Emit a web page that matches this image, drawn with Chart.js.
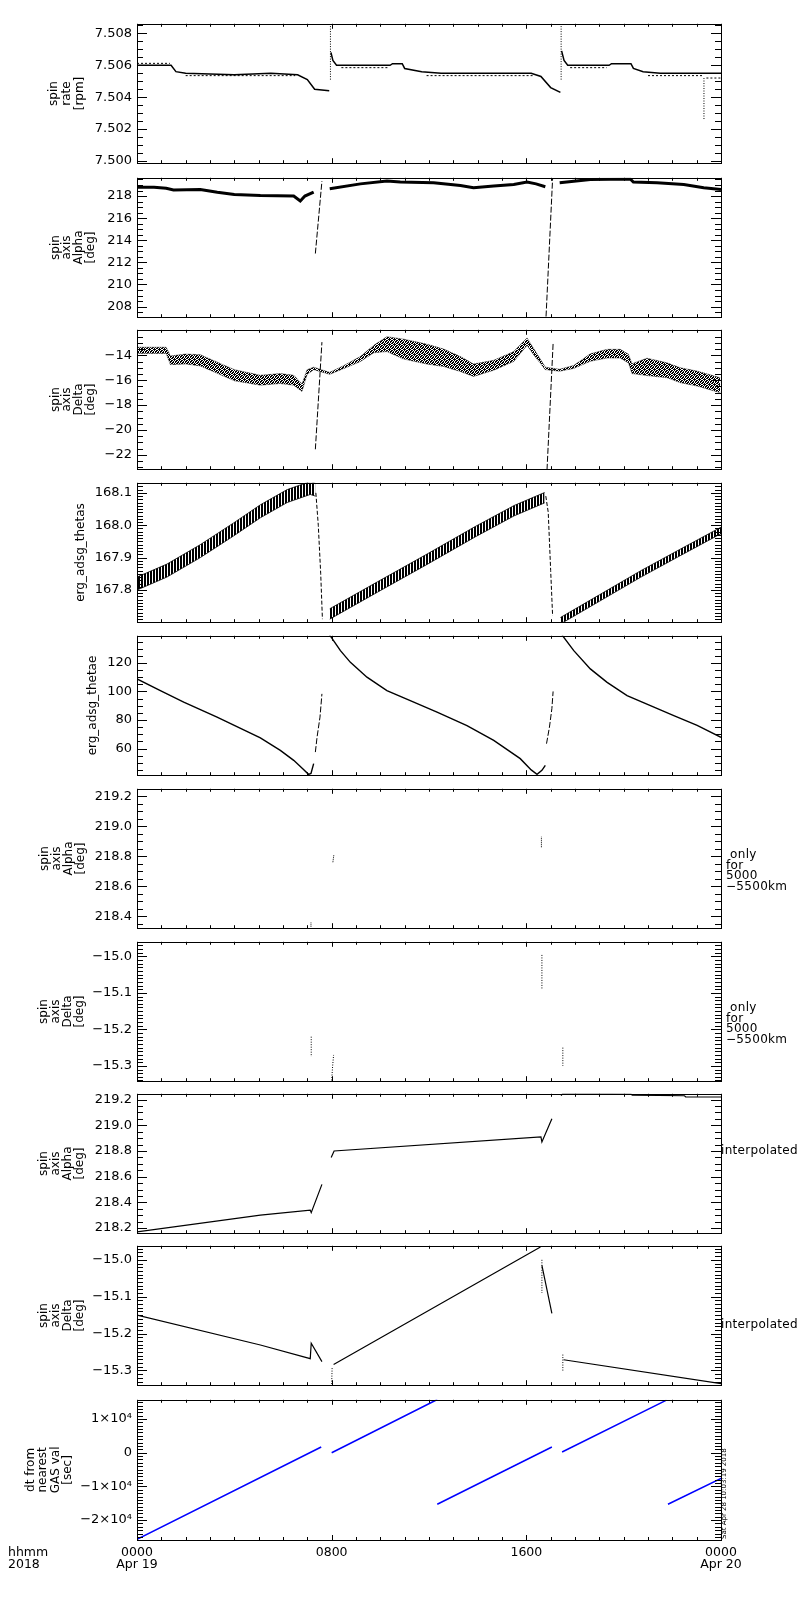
<!DOCTYPE html>
<html>
<head>
<meta charset="utf-8">
<script src="https://cdn.jsdelivr.net/npm/chart.js@4.4.1/dist/chart.umd.min.js"></script>
<style>
  body { margin: 0; background: #fff; width: 800px; height: 1600px; position: relative;
         font-family: "DejaVu Sans", sans-serif; color: #000; }
  canvas { position: absolute; left: 0; z-index: 1; }
  .note { position: absolute; z-index: 2; font-size: 12px; line-height: 10.6px; letter-spacing: 0.3px; white-space: nowrap; }
  .stamp { position: absolute; z-index: 2; font-size: 7px; line-height: 8px; white-space: nowrap;
           transform: rotate(-90deg); transform-origin: left top; }
</style>
</head>
<body>

<div class="note" style="left:8px;top:1546px;font-size:12.5px;line-height:11.7px;letter-spacing:0">hhmm<br>2018</div>
<div class="note" style="left:726px;top:849px">&nbsp;only<br>for<br>5000<br>−5500km</div>
<div class="note" style="left:726px;top:1002px">&nbsp;only<br>for<br>5000<br>−5500km</div>
<div class="note" style="left:721px;top:1145px">interpolated</div>
<div class="note" style="left:721px;top:1319px">interpolated</div>
<div class="stamp" style="left:720px;top:1539px">Sat Apr 28 10:03:19 2018</div>

<script>
// ===== DATA (hours since 0000 Apr 19; null = gap) =====
const timeTickHours = [0, 8, 16, 24];
const timeTickLabels = [["0000", "Apr 19"], "0800", "1600", ["0000", "Apr 20"]];

// spin rate [rpm]
const rateHours = [0, 1.4, 1.6, 2.0, 4.0, 5.5, 6.6, 7.0, 7.3, 7.9, 7.93, 7.97, 8.05, 8.2, 10.4, 10.5, 10.9, 11.0, 11.7, 12.5,
                   16.2, 16.6, 17.0, 17.4, 17.42, 17.45, 17.55, 17.7, 19.4, 19.5, 20.3, 20.4, 20.8, 21.5, 24.0];
const rateRpm = [7.5060, 7.5060, 7.5056, 7.5055, 7.5054, 7.5055, 7.5054, 7.5051, 7.5045, 7.5044, null, 7.5068, 7.5063, 7.5060,
                 7.5060, 7.5061, 7.5061, 7.5058, 7.5056, 7.5055, 7.5055, 7.5053, 7.5046, 7.5043, null, 7.5069, 7.5063, 7.5060,
                 7.5060, 7.5061, 7.5061, 7.5058, 7.5056, 7.5055, 7.5055];
const rateAltHours = [0, 1.35, 1.5, 2.0, 6.5, 7.0, 8.4, 10.3, 11.0, 11.9, 16.3, 17.0, 17.8, 19.3, 20.0, 21.0, 23.25, 23.3, 23.4, 24.0];
const rateAltRpm = [7.50612, 7.50612, null, 7.50535, 7.50535, null, 7.50585, 7.50585, null, 7.50535, 7.50535, null,
                    7.50585, 7.50585, null, 7.50535, 7.50535, null, 7.50520, 7.50520];
const rateSpikeHours = [7.95, 7.95, 8.0, 17.43, 17.43, 18.0, 23.3, 23.3];
const rateSpikeRpm = [7.5051, 7.5085, null, 7.5051, 7.5085, null, 7.5052, 7.5026];
const rateTicks = [7.500, 7.502, 7.504, 7.506, 7.508];
const rateLabels = ["7.500", "7.502", "7.504", "7.506", "7.508"];

// spin axis Alpha [deg]
const alphaHours = [0, 0.7, 1.2, 1.5, 2.6, 3.3, 4.0, 5.07, 6.44, 6.71, 6.9, 7.26, 7.5, 7.92, 9.18, 10.27, 10.82, 12.19, 13.29,
                    13.83, 14.66, 15.48, 16.03, 16.4, 16.78, 17.0, 17.37, 18.63, 20.27, 20.4, 21.37, 22.47, 23.29, 24.0];
const alphaDeg = [218.8, 218.8, 218.7, 218.55, 218.6, 218.35, 218.15, 218.05, 218.0, 217.55, 218.0, 218.36, null, 218.66,
                  219.1, 219.35, 219.26, 219.2, 218.96, 218.75, 218.9, 219.05, 219.26, 219.1, 218.84, null, 219.2, 219.5,
                  219.55, 219.26, 219.2, 219.05, 218.75, 218.6];
const alphaSteepHours = [7.33, 7.6, 8.0, 16.81, 17.08];
const alphaSteepDeg = [212.8, 219.35, null, 207.1, 219.6];
const alphaTicks = [208, 210, 212, 214, 216, 218];
const alphaLabels = ["208", "210", "212", "214", "216", "218"];

// spin axis Delta [deg] (scatter cloud, upper / lower edge)
const deltaHours = [0, 1.2, 1.37, 2.0, 2.6, 3.3, 4.0, 5.07, 5.89, 6.44, 6.78, 6.99, 7.26,
                    7.92, 8.49, 9.18, 9.73, 10.27, 10.96, 11.9, 12.6, 13.29, 13.83, 14.66, 15.48, 16.03, 16.3, 16.78,
                    17.37, 17.95, 18.63, 19.32, 19.86, 20.2, 20.34, 20.96, 21.78, 22.33, 23.02, 23.97];
const deltaUpper = [-13.35, -13.35, -14.05, -13.9, -13.95, -14.55, -15.15, -15.6, -15.47, -15.6, -16.3, -15.15, -14.95,
                    -15.37, -14.83, -14.1, -13.2, -12.5, -12.7, -13.1, -13.5, -14.1, -14.7, -14.4, -13.7, -12.6, -13.45, -14.95,
                    -15.12, -14.81, -13.88, -13.52, -13.52, -13.92, -14.67, -14.23, -14.6, -15.0, -15.27, -15.8];
const deltaLower = [-13.85, -13.85, -14.75, -14.7, -14.85, -15.45, -16.05, -16.4, -16.27, -16.4, -16.9, -15.55, -15.15,
                    -15.53, -15.07, -14.5, -13.8, -13.7, -14.3, -14.7, -14.9, -15.3, -15.7, -15.2, -14.5, -13.2, -13.95, -15.15,
                    -15.28, -15.05, -14.48, -14.22, -14.22, -14.62, -15.47, -15.63, -15.8, -16.2, -16.47, -17.0];
const deltaSteepHours = [7.33, 7.6, 8.0, 16.85, 17.1];
const deltaSteepDeg = [-21.55, -12.94, null, -23.2, -13.07];
const deltaTicks = [-22, -20, -18, -16, -14];
const deltaLabels = ["−22", "−20", "−18", "−16", "−14"];

// erg_adsg_thetas (spin-modulated band, upper / lower edge)
const thetasHours = [0, 1.23, 2.6, 3.97, 5.07, 6.17, 7.12, 7.33, 7.6, 7.92, 9.9, 11.92, 13.9, 15.5, 16.75,
                     17.2, 17.4, 19.0, 20.69, 22.3, 24.0];
const thetasUpper = [167.84, 167.88, 167.94, 168.007, 168.063, 168.11, 168.135, 168.13, null, 167.742, 167.826, 167.911,
                     167.996, 168.061, 168.101, null, 167.715, 167.785, 167.859, 167.925, 167.994];
const thetasLower = [167.80, 167.84, 167.90, 167.967, 168.023, 168.07, 168.095, 168.09, null, 167.71, 167.794, 167.879,
                     167.964, 168.029, 168.069, null, 167.695, 167.765, 167.839, 167.905, 167.974];
const thetasSteepHours = [7.35, 7.45, 7.55, 7.62, 8.0, 16.8, 16.9, 17.0, 17.08];
const thetasSteepVal = [168.10, 168.0, 167.85, 167.71, null, 168.09, 168.04, 167.86, 167.72];
const thetasTicks = [167.8, 167.9, 168.0, 168.1];
const thetasLabels = ["167.8", "167.9", "168.0", "168.1"];

// erg_adsg_thetae
const thetaeHours = [0, 0.96, 1.92, 3.29, 5.07, 5.89, 6.44, 6.8, 7.05, 7.15, 7.26, 7.5, 7.9, 8.0, 8.36, 8.77, 9.45, 10.27,
                     11.23, 12.33, 13.56, 14.66, 15.75, 16.2, 16.44, 16.64, 16.78, 17.2, 17.47, 17.95, 18.63, 19.32,
                     20.14, 21.1, 22.06, 23.02, 24.0];
const thetaeVal = [108.8, 100.6, 92.5, 82.0, 67.5, 58.7, 51.7, 46.0, 41.9, 42.5, 49.4, null, 140.0, 137.5, 128.6, 120.4,
                   110.0, 100.6, 93.6, 85.5, 76.1, 65.7, 52.9, 45.0, 41.9, 44.7, 48.2, null, 139.5, 128.6, 115.8, 106.4,
                   97.1, 90.1, 83.1, 76.2, 67.8];
const thetaeSteepHours = [7.33, 7.4, 7.52, 7.6, 8.0, 16.83, 16.95, 17.05, 17.1];
const thetaeSteepVal = [57.5, 68.0, 82.0, 98.3, null, 63.4, 75.0, 88.0, 100.0];
const thetaeTicks = [60, 80, 100, 120];
const thetaeLabels = ["60", "80", "100", "120"];

// spin axis Alpha, only for 5000-5500km
const alphaOnlyHours = [7.15, 7.15, 7.6, 8.05, 8.09, 9.0, 16.62, 16.62];
const alphaOnlyDeg = [218.33, 218.36, null, 218.76, 218.81, null, 218.86, 218.93];
const alphaOnlyTicks = [218.4, 218.6, 218.8, 219.0, 219.2];
const alphaOnlyLabels = ["218.4", "218.6", "218.8", "219.0", "219.2"];

// spin axis Delta, only for 5000-5500km
const deltaOnlyHours = [7.16, 7.16, 7.5, 8.0, 8.04, 8.08, 9.0, 16.64, 16.64, 17.0, 17.5, 17.5];
const deltaOnlyDeg = [-15.22, -15.275, null, -15.34, -15.30, -15.27, null, -14.996, -15.09, null, -15.25, -15.30];
const deltaOnlyTicks = [-15.3, -15.2, -15.1, -15.0];
const deltaOnlyLabels = ["−15.3", "−15.2", "−15.1", "−15.0"];

// spin axis Alpha, interpolated
const alphaIntHours = [0, 5.07, 7.12, 7.16, 7.6, 7.8, 7.98, 8.1, 16.6, 16.64, 17.05, 17.3, 17.43, 17.5, 20.3, 20.35, 22.5, 22.55, 24.0];
const alphaIntDeg = [218.17, 218.30, 218.34, 218.32, 218.54, null, 218.75, 218.80, 218.91, 218.87, 219.05, null,
                     219.23, 219.25, 219.245, 219.235, 219.23, 219.22, 219.22];
const alphaIntTicks = [218.2, 218.4, 218.6, 218.8, 219.0, 219.2];
const alphaIntLabels = ["218.2", "218.4", "218.6", "218.8", "219.0", "219.2"];

// spin axis Delta, interpolated
const deltaIntHours = [0, 5.07, 7.12, 7.16, 7.6, 7.8, 8.08, 16.58, 16.6, 16.64, 17.05, 17.3, 17.53, 24.0];
const deltaIntDeg = [-15.15, -15.231, -15.268, -15.226, -15.276, null, -15.284, -14.965, null, -15.015, -15.145, null, -15.271, -15.336];
const deltaIntDotHours = [8.0, 8.02, 8.5, 16.64, 16.64, 17.0, 17.5, 17.5];
const deltaIntDotDeg = [-15.337, -15.29, null, -15.0, -15.09, null, -15.257, -15.302];

// dt from nearest GAS val [sec]
const dtHours = [0, 7.57, 7.8, 8.0, 12.34, 12.34, 12.34, 17.05, 17.3, 17.47, 21.76, 21.8, 21.82, 24.0];
const dtSec = [-25700, 1700, null, 0, 15800, null, -15300, 1700, null, 200, 15600, null, -15300, -7600];
const dtTicks = [-20000, -10000, 0, 10000];
const dtLabels = ["−2×10⁴", "−1×10⁴", "0", "1×10⁴"];

// ===== LAYOUT =====
const panelTops = [23, 177, 329, 482, 635, 788, 941, 1093, 1245, 1399];
const plotH = 141, PAD = 12, X_AXIS_H = 45;

Chart.defaults.font.family = '"DejaVu Sans", sans-serif';
Chart.defaults.color = "#000";

function pts(hours, vals) { return hours.map((h, i) => ({ x: h, y: vals[i] })); }
function line(hours, vals, extra) {
  return Object.assign({ data: pts(hours, vals), borderColor: "#000", borderWidth: 1, pointRadius: 0,
                         fill: false, tension: 0, spanGaps: false }, extra);
}
function tile(w, h, cells) {
  const c = document.createElement("canvas");
  c.width = w; c.height = h;
  const g = c.getContext("2d");
  g.fillStyle = "#000";
  cells.forEach(([x, y]) => g.fillRect(x, y, 1, 1));
  return c;
}
// vertical hatch for the spin-modulated band, irregular stipple for the scatter cloud
const stripeTile = tile(3, 1, [[0, 0], [1, 0]]);
const stippleTile = tile(5, 5, [[0, 0], [2, 0], [3, 0], [1, 1], [4, 1], [2, 1], [0, 2], [3, 2], [4, 2],
                                [1, 3], [2, 3], [4, 3], [0, 4], [3, 4], [1, 4]]);
const patternOf = t => c => c.chart.ctx.createPattern(t, "repeat");

// IDL-style frame with inward ticks on all four sides
const idlAxes = {
  id: "idlAxes",
  afterDraw(chart, args, o) {
    const { ctx, chartArea: a } = chart;
    const xs = chart.scales.x, ys = chart.scales.y;
    ctx.save();
    ctx.strokeStyle = "#000";
    ctx.lineWidth = 1;
    ctx.strokeRect(Math.round(a.left) + 0.5, Math.round(a.top) + 0.5,
                   Math.round(a.right - a.left), Math.round(a.bottom - a.top));
    ctx.beginPath();
    const n0 = Math.ceil(ys.min / o.yMinor - 1e-6), n1 = Math.floor(ys.max / o.yMinor + 1e-6);
    for (let n = n0; n <= n1; n++) {
      const v = n * o.yMinor, r = v / o.yMajor;
      const len = Math.abs(r - Math.round(r)) < 1e-6 ? 10 : 6;
      const py = Math.round(ys.getPixelForValue(v)) + 0.5;
      ctx.moveTo(a.left, py); ctx.lineTo(a.left + len, py);
      ctx.moveTo(a.right, py); ctx.lineTo(a.right - len, py);
    }
    for (let h = 0; h <= 24; h++) {
      const len = h % 8 === 0 ? 5 : 3;
      const px = Math.round(xs.getPixelForValue(h)) + 0.5;
      ctx.moveTo(px, a.bottom); ctx.lineTo(px, a.bottom - len);
      ctx.moveTo(px, a.top); ctx.lineTo(px, a.top + len);
    }
    ctx.stroke();
    ctx.restore();
  }
};

const panels = [
  { yMin: 7.49986, yMax: 7.5086, ticks: rateTicks, labels: rateLabels, major: 0.002, minor: 0.0005,
    title: ["spin", "rate", "[rpm]"], titlePad: 47, titleLH: 13.3,
    datasets: [line(rateHours, rateRpm, { borderWidth: 1.5 }),
               line(rateAltHours, rateAltRpm, { borderDash: [2, 2] }),
               line(rateSpikeHours, rateSpikeRpm, { borderDash: [1, 1.5] })] },
  { yMin: 207.04, yMax: 219.65, ticks: alphaTicks, labels: alphaLabels, major: 2, minor: 0.5,
    title: ["spin", "axis", "Alpha", "[deg]"], titlePad: 49.5, titleLH: 11.8,
    datasets: [line(alphaHours, alphaDeg, { borderWidth: 3 }),
               line(alphaSteepHours, alphaSteepDeg, { borderDash: [6, 2] })] },
  { yMin: -23.15, yMax: -11.95, ticks: deltaTicks, labels: deltaLabels, major: 2, minor: 0.5,
    title: ["spin", "axis", "Delta", "[deg]"], titlePad: 49.5, titleLH: 11.8,
    datasets: [line(deltaHours, deltaUpper, { fill: "+1", backgroundColor: patternOf(stippleTile),
                                              borderWidth: 0.6, borderColor: "rgba(0,0,0,0.6)" }),
               line(deltaHours, deltaLower, { borderWidth: 0.6, borderColor: "rgba(0,0,0,0.6)" }),
               line(deltaSteepHours, deltaSteepDeg, { borderDash: [6, 2] })] },
  { yMin: 167.7006, yMax: 168.131, ticks: thetasTicks, labels: thetasLabels, major: 0.1, minor: 0.01,
    title: "erg_adsg_thetas", titlePad: 74.5, titleLH: 12,
    datasets: [line(thetasHours, thetasUpper, { fill: "+1", backgroundColor: patternOf(stripeTile), borderWidth: 0.8 }),
               line(thetasHours, thetasLower, { borderWidth: 0.8 }),
               line(thetasSteepHours, thetasSteepVal, { borderDash: [4, 2] })] },
  { yMin: 41.3, yMax: 139, ticks: thetaeTicks, labels: thetaeLabels, major: 20, minor: 5,
    title: "erg_adsg_thetae", titlePad: 87, titleLH: 12,
    datasets: [line(thetaeHours, thetaeVal, { borderWidth: 1.4 }),
               line(thetaeSteepHours, thetaeSteepVal, { borderDash: [6, 2] })] },
  { yMin: 218.32, yMax: 219.25, ticks: alphaOnlyTicks, labels: alphaOnlyLabels, major: 0.2, minor: 0.05,
    title: ["spin", "axis", "Alpha", "[deg]"], titlePad: 39, titleLH: 12,
    datasets: [line(alphaOnlyHours, alphaOnlyDeg, { borderDash: [1, 1] })] },
  { yMin: -15.342, yMax: -14.96, ticks: deltaOnlyTicks, labels: deltaOnlyLabels, major: 0.1, minor: 0.01,
    title: ["spin", "axis", "Delta", "[deg]"], titlePad: 38, titleLH: 12,
    datasets: [line(deltaOnlyHours, deltaOnlyDeg, { borderDash: [1, 1.5] })] },
  { yMin: 218.16, yMax: 219.245, ticks: alphaIntTicks, labels: alphaIntLabels, major: 0.2, minor: 0.05,
    title: ["spin", "axis", "Alpha", "[deg]"], titlePad: 38, titleLH: 12,
    datasets: [line(alphaIntHours, alphaIntDeg, { borderWidth: 1.2 })] },
  { yMin: -15.34, yMax: -14.962, ticks: deltaOnlyTicks, labels: deltaOnlyLabels, major: 0.1, minor: 0.01,
    title: ["spin", "axis", "Delta", "[deg]"], titlePad: 38, titleLH: 12,
    datasets: [line(deltaIntHours, deltaIntDeg, { borderWidth: 1.2 }),
               line(deltaIntDotHours, deltaIntDotDeg, { borderDash: [1, 1.5] })] },
  { yMin: -25900, yMax: 15700, ticks: dtTicks, labels: dtLabels, major: 10000, minor: 1000,
    title: ["dt from", "nearest", "GAS val", "[sec]"], titlePad: 25, titleLH: 12.2,
    datasets: [line(dtHours, dtSec, { borderColor: "#0000ff", borderWidth: 1.5 })] }
];

panels.forEach((p, i) => {
  const last = i === panels.length - 1;
  const cv = document.createElement("canvas");
  cv.width = 800;
  cv.height = PAD + plotH + (last ? X_AXIS_H : PAD);
  cv.style.top = (panelTops[i] - PAD) + "px";
  document.body.appendChild(cv);

  const xScale = {
    type: "linear", min: 0, max: 24, display: last,
    grid: { display: false, drawTicks: false }, border: { display: false },
    afterBuildTicks: s => { s.ticks = timeTickHours.map(v => ({ value: v })); },
    ticks: { autoSkip: false, maxRotation: 0, padding: 7, font: { size: 12.5, lineHeight: "11.7px" },
             callback: (v, k) => timeTickLabels[k] }
  };
  if (last) xScale.afterFit = s => { s.height = X_AXIS_H; };

  new Chart(cv, {
    type: "line",
    data: { datasets: p.datasets },
    options: {
      responsive: false,
      animation: false,
      events: [],
      layout: { padding: { left: 0, right: 79, top: PAD, bottom: last ? 0 : PAD } },
      plugins: {
        legend: { display: false },
        tooltip: { enabled: false },
        idlAxes: { yMajor: p.major, yMinor: p.minor }
      },
      scales: {
        x: xScale,
        y: {
          type: "linear", min: p.yMin, max: p.yMax,
          grid: { display: false, drawTicks: false }, border: { display: false },
          afterBuildTicks: s => { s.ticks = p.ticks.map(v => ({ value: v })); },
          afterFit: s => { s.width = 137; },
          ticks: { padding: 5, font: { size: 13 }, callback: (v, k) => p.labels[k] },
          title: { display: true, text: p.title, color: "#000",
                   font: { size: 12, lineHeight: p.titleLH + "px" },
                   padding: { top: p.titlePad, bottom: 0 } }
        }
      }
    },
    plugins: [idlAxes]
  });
});
</script>
</body>
</html>
